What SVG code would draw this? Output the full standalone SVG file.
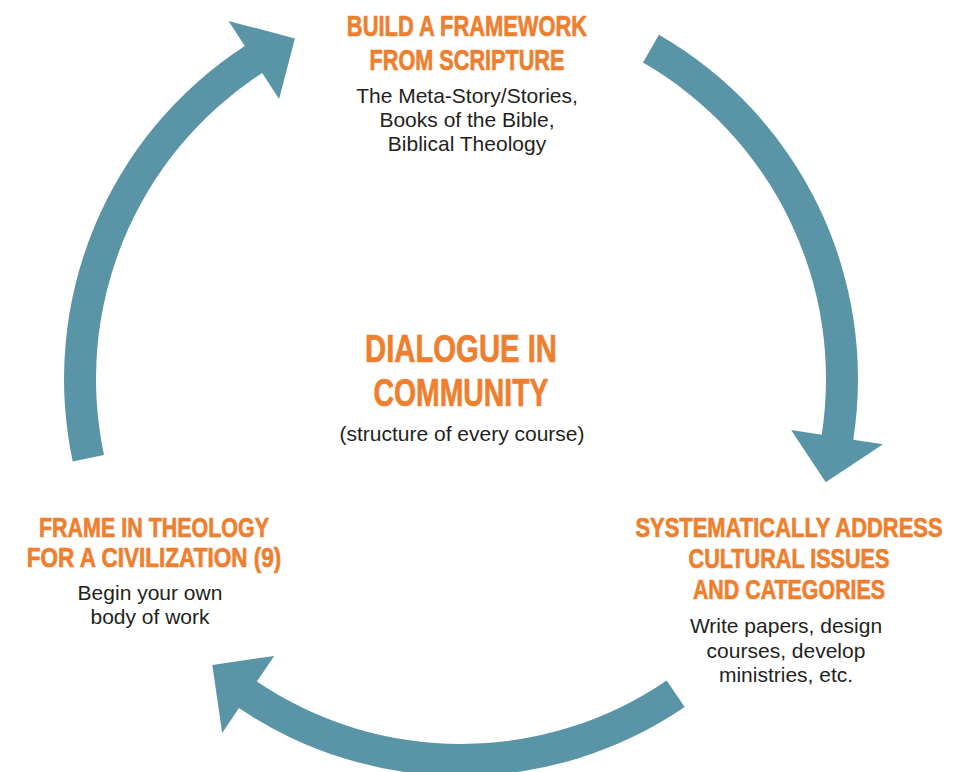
<svg xmlns="http://www.w3.org/2000/svg" width="973" height="772" viewBox="0 0 973 772">
<style>
.arrow{fill:#5a95a7;}
.title{font-family:'Liberation Sans',Arial,sans-serif;font-weight:bold;fill:#ee7f2e;stroke:#ee7f2e;stroke-width:0.7;text-anchor:middle;}
.body{font-family:'Liberation Sans',Arial,sans-serif;fill:#231f20;text-anchor:middle;font-size:21px;}
</style>
<rect width="973" height="772" fill="#ffffff"/>
<g id="connectors">
<path class="arrow" d="M72.7,461.5 A397,397 0 0 1 244.8,46.0 L228.5,20.9 L294.9,38.4 L279.1,98.9 L262.2,72.9 A365,365 0 0 0 104.0,454.9 Z"/>
<path class="arrow" d="M658.9,34.8 A397,397 0 0 1 853.3,439.7 L883.0,444.3 L825.7,482.2 L791.1,430.1 L821.7,434.8 A365,365 0 0 0 643.0,62.6 Z"/>
<path class="arrow" d="M684.7,707.0 A397,397 0 0 1 239.0,708.1 L222.2,733.0 L212.3,665.0 L274.2,655.9 L256.9,681.6 A365,365 0 0 0 666.7,680.5 Z"/>
</g>
<g id="node-scripture">
<text class="title" font-size="29" transform="translate(467,36) scale(0.755,1)">BUILD A FRAMEWORK</text>
<text class="title" font-size="29" transform="translate(467,70) scale(0.747,1)">FROM SCRIPTURE</text>
<text class="body" x="467" y="103">The Meta-Story/Stories,</text>
<text class="body" x="467" y="127">Books of the Bible,</text>
<text class="body" x="467" y="151">Biblical Theology</text>
</g>
<g id="node-center">
<text class="title" font-size="39" transform="translate(461,362) scale(0.751,1)">DIALOGUE IN</text>
<text class="title" font-size="39" transform="translate(461,406) scale(0.728,1)">COMMUNITY</text>
<text class="body" x="462" y="441" font-size="22.8">(structure of every course)</text>
</g>
<g id="node-cultural">
<text class="title" font-size="28" transform="translate(789,537) scale(0.784,1)">SYSTEMATICALLY ADDRESS</text>
<text class="title" font-size="28" transform="translate(789,568) scale(0.772,1)">CULTURAL ISSUES</text>
<text class="title" font-size="28" transform="translate(789,599) scale(0.765,1)">AND CATEGORIES</text>
<text class="body" x="786" y="633">Write papers, design</text>
<text class="body" x="786" y="658">courses, develop</text>
<text class="body" x="786" y="682">ministries, etc.</text>
</g>
<g id="node-theology">
<text class="title" font-size="28" transform="translate(154,537) scale(0.767,1)">FRAME IN THEOLOGY</text>
<text class="title" font-size="28" transform="translate(154,567) scale(0.805,1)">FOR A CIVILIZATION (9)</text>
<text class="body" x="150" y="600">Begin your own</text>
<text class="body" x="150" y="624">body of work</text>
</g>
</svg>
